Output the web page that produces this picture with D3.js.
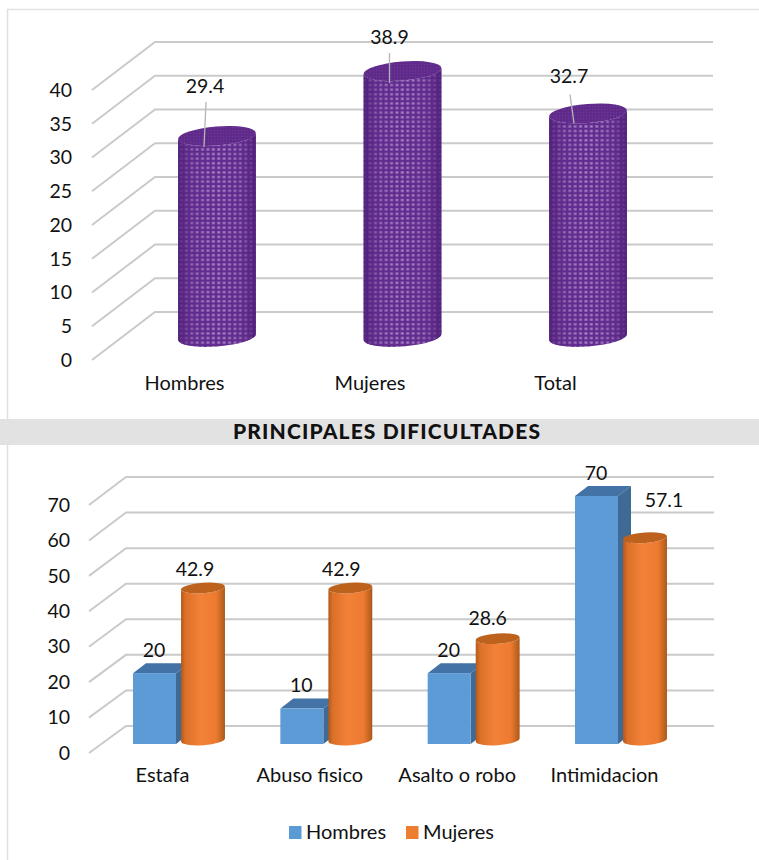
<!DOCTYPE html>
<html><head><meta charset="utf-8">
<script src="https://cdn.jsdelivr.net/npm/d3@7"></script>
<style>
html,body{margin:0;padding:0;background:#fff}
svg{display:block}
text{font-family:Lato,"Open Sans",sans-serif;fill:#111}
</style></head><body>
<script>
const topCategories = ["Hombres","Mujeres","Total"];
const topValues = [29.4,38.9,32.7];
const topTicks = [0,5,10,15,20,25,30,35,40];
const bottomCategories = ["Estafa","Abuso fisico","Asalto o robo","Intimidacion"];
const hombres = [20,10,20,70];
const mujeres = [42.9,42.9,28.6,57.1];
const bottomTicks = [0,10,20,30,40,50,60,70];
const seriesNames = ["Hombres","Mujeres"];
const sectionTitle = "PRINCIPALES DIFICULTADES";

const W=759,H=860;
const svg=d3.select("body").append("svg").attr("width",W).attr("height",H);
const defs=svg.append("defs");

function grad(id,stops){
  const g=defs.append("linearGradient").attr("id",id).attr("x1","0").attr("x2","1").attr("y1","0").attr("y2","0");
  stops.forEach(s=>g.append("stop").attr("offset",s[0]).attr("stop-color",s[1]).attr("stop-opacity",s[2]===undefined?1:s[2]));
}
grad("orangeBody",[[0,"#b3591b"],[0.1,"#dc7029"],[0.45,"#f38238"],[0.8,"#ec7a30"],[0.95,"#bd621f"],[1,"#a9551a"]]);
grad("purpleShade",[[0,"#4f1f78",0.9],[0.2,"#5d2a88",0.3],[0.5,"#5d2a88",0.05],[0.8,"#5d2a88",0.3],[1,"#4f1f78",0.9]]);
const pat=defs.append("pattern").attr("id","mesh").attr("patternUnits","userSpaceOnUse").attr("width",5.4).attr("height",4.6);
pat.append("rect").attr("width",5.4).attr("height",4.6).attr("fill","#622c90");
pat.append("rect").attr("x",1.3).attr("y",1.1).attr("width",2.9).attr("height",2.3).attr("fill","#ab88c8");
const patTop=defs.append("pattern").attr("id","meshTop").attr("patternUnits","userSpaceOnUse").attr("width",3).attr("height",3);
patTop.append("rect").attr("width",3).attr("height",3).attr("fill","#5f2a8a");
patTop.append("rect").attr("x",1).attr("y",1).attr("width",1.2).attr("height",1.2).attr("fill","#6d3797");
defs.append("filter").attr("id","soft").attr("x","-5%").attr("y","-5%").attr("width","110%").attr("height","110%")
  .append("feGaussianBlur").attr("stdDeviation",0.5);
defs.append("filter").attr("id","softer").attr("x","-2%").attr("y","-2%").attr("width","104%").attr("height","104%")
  .append("feGaussianBlur").attr("stdDeviation",0.5);

// frame and section band
const frame="#e1e1e1";
svg.append("path").attr("d","M759,9.5H7.5V419M7.5,445V860").attr("fill","none").attr("stroke",frame).attr("stroke-width",1.6);
svg.append("rect").attr("x",0).attr("y",419).attr("width",W).attr("height",26).attr("fill","#e2e2e2");
svg.append("text").attr("x",233).attr("y",439).attr("font-size",21).attr("font-weight",900)
  .attr("textLength",307).attr("lengthAdjust","spacing").text(sectionTitle);

function grid(g,ticks,front,back,x0,x1,x2){
  g.append("g").attr("filter","url(#softer)").selectAll("path").data(ticks).join("path")
   .attr("d",d=>`M${x0},${front(d)}L${x1},${back(d)}H${x2}`)
   .attr("fill","none").attr("stroke","#cacaca").attr("stroke-width",2);
}
function yAxis(g,scale,ticks,x){
  const a=g.append("g").attr("transform",`translate(${x},0)`)
   .call(d3.axisLeft(scale).tickValues(ticks).tickSize(0).tickPadding(0));
  a.select(".domain").remove();
  a.selectAll("text").attr("font-size",19.5).attr("font-family",null);
  a.attr("font-family",null);
}
function xAxis(g,scale,y,shift){
  const a=g.append("g").attr("transform",`translate(${shift},${y})`)
   .call(d3.axisBottom(scale).tickSize(0).tickPadding(0));
  a.select(".domain").remove();
  a.attr("font-family",null);
  a.selectAll("text").attr("font-size",20).attr("font-family",null);
}
function cylinderPaths(cx,rx,ry,base,top,deg){
  const r=deg*Math.PI/180, dx=rx*Math.cos(r), dy=rx*Math.sin(r);
  const xl=cx-dx,xr=cx+dx;
  return {
    body:`M${xl},${top-dy}L${xl},${base-dy}A${rx},${ry} ${deg} 0 0 ${xr},${base+dy}L${xr},${top+dy}A${rx},${ry} ${deg} 0 1 ${xl},${top-dy}Z`,
    cap:`M${xl},${top-dy}A${rx},${ry} ${deg} 0 1 ${xr},${top+dy}A${rx},${ry} ${deg} 0 1 ${xl},${top-dy}Z`
  };
}

// ---------- top chart
const t=svg.append("g");
const tFront=d3.scaleLinear().domain([0,40]).range([360,90]);
const tBack=d3.scaleLinear().domain([0,40]).range([312,42]);
const tBar=d3.scaleLinear().domain([0,40]).range([337,63.5]);
const tX=d3.scalePoint().domain(topCategories).range([217,588]);
grid(t,topTicks,tFront,tBack,92,155,713);
yAxis(t,tFront,topTicks,72);
xAxis(t,tX,376,-33);
const tRow=topCategories.map((c,i)=>({c,v:topValues[i]}));
const tBars=t.append("g").attr("filter","url(#soft)");
tRow.forEach(d=>{
  const p=cylinderPaths(tX(d.c),39,9.5,337,tBar(d.v),-4.5);
  tBars.append("path").attr("d",p.body).attr("fill","url(#mesh)");
  tBars.append("path").attr("d",p.body).attr("fill","url(#purpleShade)");
  tBars.append("path").attr("d",p.cap).attr("fill","url(#meshTop)");
});
const tLabelDx=[-12,-13,-19], tLabelDy=[-50,-34,-37];
const tLeader=[[-11,-34,-13,11],[-13,-18,-13,12],[-18,-19,-14,10]];
tRow.forEach((d,i)=>{
  const x=tX(d.c),y=tBar(d.v),l=tLeader[i];
  t.append("line").attr("x1",x+l[0]).attr("y1",y+l[1]).attr("x2",x+l[2]).attr("y2",y+l[3]).attr("stroke","#b5b5b5").attr("stroke-width",1.3);
  t.append("text").attr("x",x+tLabelDx[i]).attr("y",y+tLabelDy[i]).attr("dy","0.35em").attr("text-anchor","middle").attr("font-size",19.5).text(d.v);
});

// ---------- bottom chart
const b=svg.append("g");
const bFront=d3.scaleLinear().domain([0,70]).range([753,505]);
const bBack=d3.scaleLinear().domain([0,70]).range([726,477]);
const bBlue=d3.scaleLinear().domain([0,70]).range([744,496]);
const bOrange=d3.scaleLinear().domain([0,70]).range([740,492]);
const bX=d3.scalePoint().domain(bottomCategories).range([179,621]);
grid(b,bottomTicks,bFront,bBack,89,126,714);
yAxis(b,bFront,bottomTicks,70);
xAxis(b,bX,768,-17);
const bBars=b.append("g").attr("filter","url(#softer)");
bottomCategories.forEach((c,i)=>{
  const cx=bX(c), x=cx-46, w=43, dx=13, dy=-10, y=bBlue(hombres[i]), y0=bBlue(0);
  bBars.append("path").attr("d",`M${x},${y}l${dx},${dy}h${w}l${-dx},${-dy}Z`).attr("fill","#4272a6");
  bBars.append("path").attr("d",`M${x+w},${y}l${dx},${dy}V${y0+dy}l${-dx},${-dy}Z`).attr("fill","#3f6a96");
  bBars.append("rect").attr("x",x).attr("y",y).attr("width",w).attr("height",y0-y).attr("fill","#5b9bd5");
  const p=cylinderPaths(cx+24,22,5.2,740,bOrange(mujeres[i]),-4);
  bBars.append("path").attr("d",p.body).attr("fill","url(#orangeBody)");
  bBars.append("path").attr("d",p.cap).attr("fill","#bc621f");
});
const mLabelDx=[-8,-9,-10,19], mLabelDy=[-19,-19,-20,-38];
bottomCategories.forEach((c,i)=>{
  const cx=bX(c);
  b.append("text").attr("x",cx-25).attr("y",bBlue(hombres[i])-23).attr("dy","0.35em").attr("text-anchor","middle").attr("font-size",19.5).text(hombres[i]);
  b.append("text").attr("x",cx+24+mLabelDx[i]).attr("y",bOrange(mujeres[i])+mLabelDy[i]).attr("dy","0.35em").attr("text-anchor","middle").attr("font-size",19.5).text(mujeres[i]);
});

// legend
const legendColor=d3.scaleOrdinal().domain(seriesNames).range(["#5b9bd5","#ed7d31"]);
const legendX=d3.scalePoint().domain(seriesNames).range([289,406]);
const lg=svg.append("g").selectAll("g").data(seriesNames).join("g").attr("transform",d=>`translate(${legendX(d)},826)`);
lg.append("rect").attr("width",12.5).attr("height",13).attr("fill",d=>legendColor(d));
lg.append("text").attr("x",17).attr("y",13).attr("font-size",20).text(d=>d);
</script>
</body></html>
